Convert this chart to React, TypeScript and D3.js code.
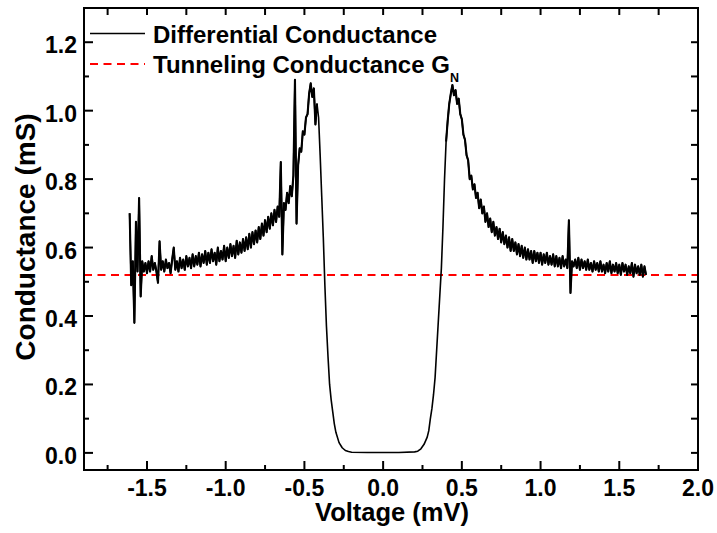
import React from "react";
import * as d3 from "d3";

// ---- data ----
const leftVoltage = [
  -1.61, -1.6, -1.59, -1.58, -1.57, -1.56, -1.55, -1.54, -1.53, -1.52, -1.51, -1.5, -1.49, -1.48, -1.47, -1.46, -1.45, -1.44, -1.43, -1.42,
  -1.41, -1.4, -1.39, -1.38, -1.37, -1.36, -1.35, -1.34, -1.33, -1.32, -1.31, -1.3, -1.29, -1.28, -1.27, -1.26, -1.25, -1.24, -1.23, -1.22,
  -1.21, -1.2, -1.19, -1.18, -1.17, -1.16, -1.15, -1.14, -1.13, -1.12, -1.11, -1.1, -1.09, -1.08, -1.07, -1.06, -1.05, -1.04, -1.03, -1.02,
  -1.01, -1.0, -0.99, -0.98, -0.97, -0.96, -0.95, -0.94, -0.93, -0.92, -0.91, -0.9, -0.89, -0.88, -0.87, -0.86, -0.85, -0.84, -0.83, -0.82,
  -0.81, -0.8, -0.79, -0.78, -0.77, -0.76, -0.75, -0.74, -0.73, -0.72, -0.71, -0.7, -0.69, -0.68, -0.67, -0.66, -0.65, -0.64, -0.63, -0.62,
  -0.61, -0.6, -0.59, -0.58, -0.57, -0.56, -0.55, -0.54, -0.53, -0.52, -0.51, -0.5, -0.49, -0.48, -0.47, -0.46, -0.45, -0.44, -0.43, -0.42,
];
const leftConductance = [
  0.70, 0.49, 0.56, 0.38, 0.675, 0.53, 0.745, 0.457, 0.56, 0.53, 0.555, 0.525, 0.56, 0.53, 0.575, 0.535, 0.555, 0.53, 0.497, 0.618,
  0.535, 0.56, 0.53, 0.565, 0.54, 0.555, 0.525, 0.565, 0.60, 0.535, 0.56, 0.53, 0.57, 0.54, 0.565, 0.535, 0.575, 0.545, 0.57, 0.54,
  0.58, 0.545, 0.575, 0.55, 0.585, 0.545, 0.58, 0.555, 0.59, 0.55, 0.585, 0.555, 0.595, 0.56, 0.585, 0.55, 0.60, 0.56, 0.59, 0.565,
  0.605, 0.56, 0.60, 0.57, 0.61, 0.575, 0.605, 0.57, 0.62, 0.58, 0.615, 0.585, 0.625, 0.59, 0.63, 0.595, 0.64, 0.60, 0.645, 0.61,
  0.65, 0.615, 0.66, 0.625, 0.67, 0.635, 0.68, 0.645, 0.69, 0.655, 0.70, 0.665, 0.71, 0.675, 0.72, 0.69, 0.85, 0.58, 0.73, 0.71,
  0.76, 0.73, 0.78, 0.75, 0.81, 1.09, 0.67, 0.84, 0.89, 0.88, 0.94, 0.93, 0.98, 0.99, 1.05, 1.08, 1.04, 1.065, 0.96, 1.02,
];

const gapVoltage = [
  -0.41, -0.4, -0.39, -0.38, -0.37, -0.36, -0.35, -0.34, -0.33, -0.32, -0.31, -0.3, -0.28, -0.26, -0.24, -0.22, -0.2, -0.1, 0.0, 0.1,
  0.2, 0.22, 0.24, 0.26, 0.28, 0.29, 0.3, 0.31, 0.32, 0.33, 0.34, 0.35, 0.36, 0.37, 0.38, 0.39,
];
const gapConductance = [
  0.98, 0.87, 0.75, 0.63, 0.49, 0.37, 0.28, 0.20, 0.155, 0.12, 0.085, 0.06, 0.03, 0.015, 0.007, 0.004, 0.002, 0.001, 0.001, 0.001,
  0.003, 0.005, 0.012, 0.025, 0.046, 0.065, 0.10, 0.13, 0.17, 0.22, 0.30, 0.38, 0.46, 0.54, 0.66, 0.80,
];

const rightVoltage = [
  0.4, 0.41, 0.42, 0.43, 0.44, 0.45, 0.46, 0.47, 0.48, 0.49, 0.5, 0.51, 0.52, 0.53, 0.54, 0.55, 0.56, 0.57, 0.58, 0.59,
  0.6, 0.61, 0.62, 0.63, 0.64, 0.65, 0.66, 0.67, 0.68, 0.69, 0.7, 0.71, 0.72, 0.73, 0.74, 0.75, 0.76, 0.77, 0.78, 0.79,
  0.8, 0.81, 0.82, 0.83, 0.84, 0.85, 0.86, 0.87, 0.88, 0.89, 0.9, 0.91, 0.92, 0.93, 0.94, 0.95, 0.96, 0.97, 0.98, 0.99,
  1.0, 1.01, 1.02, 1.03, 1.04, 1.05, 1.06, 1.07, 1.08, 1.09, 1.1, 1.11, 1.12, 1.13, 1.14, 1.15, 1.16, 1.17, 1.18, 1.19,
  1.2, 1.21, 1.22, 1.23, 1.24, 1.25, 1.26, 1.27, 1.28, 1.29, 1.3, 1.31, 1.32, 1.33, 1.34, 1.35, 1.36, 1.37, 1.38, 1.39,
  1.4, 1.41, 1.42, 1.43, 1.44, 1.45, 1.46, 1.47, 1.48, 1.49, 1.5, 1.51, 1.52, 1.53, 1.54, 1.55, 1.56, 1.57, 1.58, 1.59,
  1.6, 1.61, 1.62, 1.63, 1.64, 1.65, 1.66, 1.67,
];
const rightConductance = [
  0.91, 0.97, 1.02, 1.05, 1.075, 1.045, 1.06, 1.02, 1.035, 0.99, 0.975, 0.93, 0.915, 0.87, 0.855, 0.80, 0.81, 0.77, 0.785, 0.745,
  0.76, 0.715, 0.74, 0.70, 0.72, 0.675, 0.70, 0.66, 0.685, 0.645, 0.675, 0.635, 0.66, 0.625, 0.655, 0.615, 0.645, 0.61, 0.635, 0.60,
  0.63, 0.59, 0.625, 0.59, 0.615, 0.58, 0.61, 0.575, 0.605, 0.57, 0.60, 0.565, 0.595, 0.565, 0.59, 0.555, 0.59, 0.56, 0.585, 0.555,
  0.585, 0.55, 0.58, 0.555, 0.585, 0.55, 0.575, 0.55, 0.58, 0.545, 0.575, 0.545, 0.57, 0.54, 0.575, 0.545, 0.565, 0.54, 0.68, 0.467,
  0.56, 0.545, 0.565, 0.54, 0.57, 0.535, 0.565, 0.54, 0.56, 0.535, 0.565, 0.535, 0.555, 0.53, 0.56, 0.535, 0.555, 0.53, 0.56, 0.53,
  0.55, 0.525, 0.555, 0.53, 0.56, 0.525, 0.55, 0.53, 0.555, 0.525, 0.55, 0.52, 0.555, 0.53, 0.55, 0.52, 0.545, 0.525, 0.555, 0.515,
  0.55, 0.525, 0.545, 0.52, 0.55, 0.515, 0.545, 0.52,
];

const normalConductance = 0.52; // G_N
const xMajorTicks = [-1.5, -1.0, -0.5, 0.0, 0.5, 1.0, 1.5, 2.0];
const xMajorLabels = ["-1.5", "-1.0", "-0.5", "0.0", "0.5", "1.0", "1.5", "2.0"];
const xMinorTicks = [-1.75, -1.25, -0.75, -0.25, 0.25, 0.75, 1.25, 1.75];
const yMajorTicks = [0.0, 0.2, 0.4, 0.6, 0.8, 1.0, 1.2];
const yMajorLabels = ["0.0", "0.2", "0.4", "0.6", "0.8", "1.0", "1.2"];
const yMinorTicks = [0.1, 0.3, 0.5, 0.7, 0.9, 1.1];
const legendLabels = ["Differential Conductance", "Tunneling Conductance G"];

const W = 717;
const H = 533;
const M = { left: 84, right: 698, top: 8, bottom: 470 };
const FONT = "'Liberation Sans', Arial, Helvetica, sans-serif";

type Pt = [number, number];

export default function App() {
  const x = d3.scaleLinear().domain([-1.9, 2.0]).range([M.left, M.right]);
  const y = d3.scaleLinear().domain([-0.05, 1.3]).range([M.bottom, M.top]);

  const left: Pt[] = leftVoltage.map((v, i) => [v, leftConductance[i]]);
  const gap: Pt[] = gapVoltage.map((v, i) => [v, gapConductance[i]]);
  const right: Pt[] = rightVoltage.map((v, i) => [v, rightConductance[i]]);
  const all: Pt[] = [...left, ...gap, ...right];

  const line = d3
    .line<Pt>()
    .x((d) => x(d[0]))
    .y((d) => y(d[1]));

  const allX = [...xMajorTicks, ...xMinorTicks].sort((a, b) => a - b);
  const allY = [...yMajorTicks, ...yMinorTicks].sort((a, b) => a - b);

  return (
    <svg
      width={W}
      height={H}
      style={{ position: "absolute", left: 0, top: 0, background: "#fff" }}
      fontFamily={FONT}
      fontWeight="bold"
    >
      <rect x={0} y={0} width={W} height={H} fill="#fff" />
      {/* G_N dashed line */}
      <line
        x1={M.left}
        x2={M.right}
        y1={y(normalConductance)}
        y2={y(normalConductance)}
        stroke="#ff0000"
        strokeWidth={2}
        strokeDasharray="8,5.5"
      />
      {/* data curve */}
      <path d={line(all) || ""} fill="none" stroke="#000" strokeWidth={1.6} strokeLinejoin="round" />
      <path d={line(left) || ""} fill="none" stroke="#000" strokeWidth={2.1} strokeLinejoin="round" />
      <path d={line(right) || ""} fill="none" stroke="#000" strokeWidth={2.1} strokeLinejoin="round" />

      {/* frame */}
      <rect
        x={M.left}
        y={M.top}
        width={M.right - M.left}
        height={M.bottom - M.top}
        fill="none"
        stroke="#000"
        strokeWidth={2}
      />
      {/* bottom ticks */}
      {xMajorTicks.map((t) => (
        <line key={"bM" + t} x1={x(t)} x2={x(t)} y1={M.bottom} y2={M.bottom - 9} stroke="#000" strokeWidth={2} />
      ))}
      {xMinorTicks.map((t) => (
        <line key={"bm" + t} x1={x(t)} x2={x(t)} y1={M.bottom} y2={M.bottom - 5} stroke="#000" strokeWidth={2} />
      ))}
      {/* top ticks */}
      {allX.map((t) => (
        <line key={"t" + t} x1={x(t)} x2={x(t)} y1={M.top} y2={M.top + 7} stroke="#000" strokeWidth={2} />
      ))}
      {/* left ticks */}
      {yMajorTicks.map((t) => (
        <line key={"lM" + t} x1={M.left} x2={M.left + 9} y1={y(t)} y2={y(t)} stroke="#000" strokeWidth={2} />
      ))}
      {yMinorTicks.map((t) => (
        <line key={"lm" + t} x1={M.left} x2={M.left + 5} y1={y(t)} y2={y(t)} stroke="#000" strokeWidth={2} />
      ))}
      {/* right ticks */}
      {allY.map((t) => (
        <line key={"r" + t} x1={M.right} x2={M.right - 7} y1={y(t)} y2={y(t)} stroke="#000" strokeWidth={2} />
      ))}

      {/* tick labels */}
      {xMajorTicks.map((t, i) => (
        <text key={"xl" + t} x={x(t)} y={496} textAnchor="middle" fontSize={23} fill="#000">
          {xMajorLabels[i]}
        </text>
      ))}
      {yMajorTicks.map((t, i) => (
        <text key={"yl" + t} x={77} y={y(t) + 11} textAnchor="end" fontSize={23} fill="#000">
          {yMajorLabels[i]}
        </text>
      ))}

      {/* axis titles */}
      <text x={392} y={521} textAnchor="middle" fontSize={25.5} fill="#000">
        Voltage (mV)
      </text>
      <text
        transform={`translate(35, 237) rotate(-90)`}
        textAnchor="middle"
        fontSize={28}
        fill="#000"
      >
        Conductance (mS)
      </text>

      {/* legend */}
      <line x1={90} x2={145} y1={33.5} y2={33.5} stroke="#000" strokeWidth={1.5} />
      <text x={153} y={42.5} fontSize={24} fill="#000">
        {legendLabels[0]}
      </text>
      <line x1={90} x2={145} y1={64} y2={64} stroke="#ff0000" strokeWidth={2} strokeDasharray="8,5.5" />
      <text x={153} y={72.5} fontSize={24} fill="#000">
        {legendLabels[1]}
        <tspan fontSize={12.5} dy={9}>
          N
        </tspan>
      </text>
    </svg>
  );
}
